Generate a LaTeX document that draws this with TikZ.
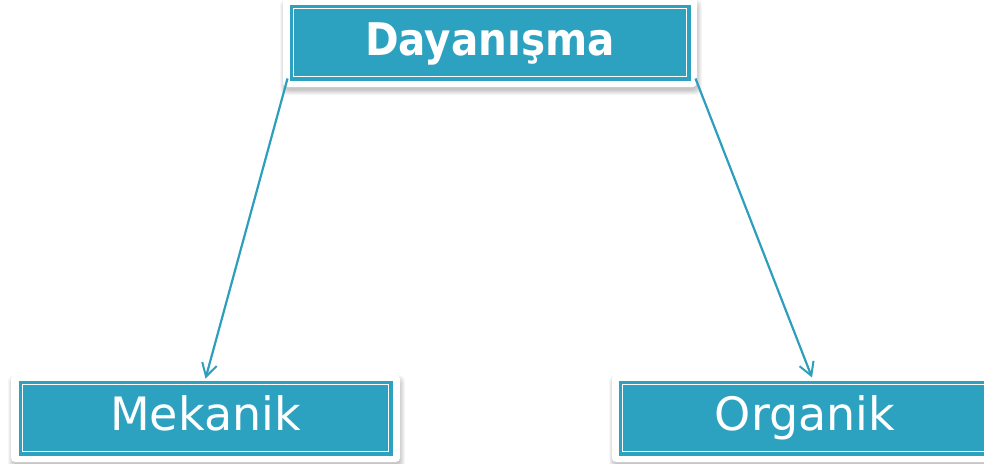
\documentclass[tikz,border=0pt]{standalone}
\usepackage{fontspec}
\setmainfont{DejaVu Sans}
\newfontfamily\condfont{DejaVu Sans Condensed}
\usetikzlibrary{arrows.meta}
\definecolor{teal1}{HTML}{2DA2C0}
\definecolor{arrowc}{HTML}{2E9EBD}
\tikzset{
  frame/.style={fill=white, rounded corners=4pt},
  tealbox/.style={fill=teal1, draw=teal1, line width=1pt, inner sep=0pt},
  innerline/.style={draw=white, line width=1.6pt},
  lbl/.style={text=white, font=\fontsize{46}{46}\selectfont, inner sep=0pt, anchor=base},
  conn/.style={draw=arrowc, line width=2.2pt, -{Straight Barb[length=13pt, width=15pt, line width=2pt]}}
}
\newcommand{\softshadow}[4]{%
  \foreach \i in {0,...,6}{
    \fill[black, opacity=0.035, rounded corners=6pt] (#1-\i*0.8, #2-\i*0.8) rectangle (#3+\i*0.8, #4+\i*0.8);
  }}
\begin{document}
\begin{tikzpicture}[x=1pt,y=-1pt]
\useasboundingbox (0,0) rectangle (984,463);
% top box
\softshadow{285}{4}{697}{90}
\fill[frame] (283,-4) rectangle (697,87);
\node[tealbox, minimum width=400pt, minimum height=75pt] (top) at (490,42.5) {};
\draw[innerline] ([shift={(4pt,-4pt)}]top.north west) rectangle ([shift={(-4pt,4pt)}]top.south east);
\node[lbl, font=\condfont\bfseries\fontsize{45}{45}\selectfont] (toplbl) at (490,55) {Dayanışma};
% Mekanik
\softshadow{13}{380}{400}{465}
\fill[frame] (11,375) rectangle (400,462);
\node[tealbox, minimum width=373pt, minimum height=74pt] (mek) at (205.5,418) {};
\draw[innerline] ([shift={(4pt,-4pt)}]mek.north west) rectangle ([shift={(-4pt,4pt)}]mek.south east);
\node[lbl] (meklbl) at (205.5,430) {Mekanik};
% Organik
\softshadow{614}{380}{1010}{465}
\fill[frame] (612,375) rectangle (1010,462);
\node[tealbox, minimum width=386pt, minimum height=74pt] (org) at (812,418) {};
\draw[innerline] ([shift={(4pt,-4pt)}]org.north west) rectangle ([shift={(-4pt,4pt)}]org.south east);
\node[lbl] (orglbl) at (805,430) {Organik};
% connectors
\draw[conn] ([shift={(-2pt,2pt)}]top.south west) -- ([yshift=2pt]mek.north);
\draw[conn] ([shift={(5pt,2pt)}]top.south east) -- ([yshift=3pt]org.north);
\end{tikzpicture}
\end{document}
